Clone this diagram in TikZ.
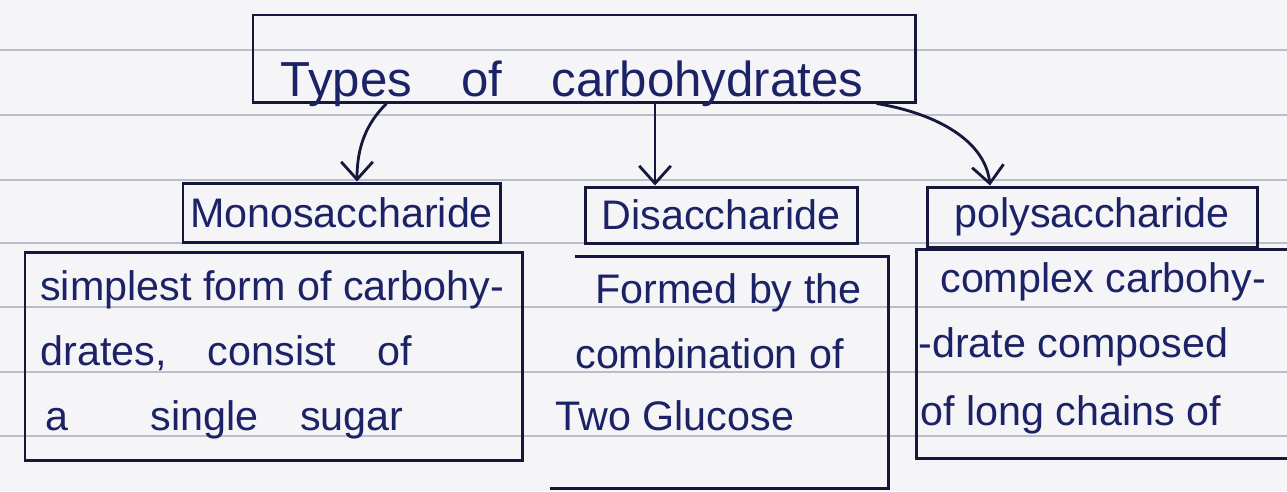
\documentclass[tikz,border=0pt]{standalone}
\usepackage{fontspec}
\setmainfont{Liberation Sans}
\usetikzlibrary{arrows.meta,fit}
\definecolor{paper}{HTML}{F5F5F7}
\definecolor{ruled}{HTML}{BABECB}
\definecolor{ink}{HTML}{1C2266}
\definecolor{pen}{HTML}{15183C}
\begin{document}
\begin{tikzpicture}[x=0.02cm,y=-0.02cm,
  frame/.style={draw=pen, line width=1.7pt, inner sep=0pt},
  hidden/.style={inner sep=0pt},
  edge/.style={draw=pen, line width=1.7pt},
  txt/.style={text=ink, anchor=base west, inner sep=0pt, font=\fontsize{23.5}{28}\selectfont},
  lbl/.style={text=ink, inner sep=0pt, font=\fontsize{23.5}{28}\selectfont},
  arr/.style={draw=pen, line width=1.6pt, -{Straight Barb[length=10pt,width=18pt,line width=1.6pt]}}]
\fill[paper] (0,0) rectangle (1287,491);
\useasboundingbox (0,0) rectangle (1287,491);
\foreach \yy in {50,115,180,243,307,372,436}
  \draw[ruled, line width=1.1pt] (0,\yy) -- (1287,\yy);
% title
\node[frame, fit={(253,15)(915,102)}] (title) {};
\node[text=ink, inner sep=0pt, anchor=base, font=\fontsize{28}{34}\selectfont] (titletxt) at (572,96) {Types\quad of\quad carbohydrates};
% labels
\node[frame, fit={(183,183)(500,242)}] (mono) {};
\node[lbl] (monotxt) at (mono.center) {Monosaccharide};
\node[frame, fit={(585,187)(857,243)}] (di) {};
\node[lbl] (ditxt) at (di.center) {Disaccharide};
\node[frame, fit={(927,187)(1257,247)}] (poly) {};
\node[lbl] (polytxt) at (poly.center) {polysaccharide};
% description boxes
\node[frame, fit={(25,252)(522,460)}] (monod) {};
\node[hidden, fit={(550,257)(888,488)}] (did) {};
\draw[edge] ([xshift=0.5cm]did.north west) -- (did.north east) -- (did.south east) -- (did.south west);
\node[hidden, fit={(917,250)(1287,458)}] (polyd) {};
\draw[edge] (polyd.north east) -- (polyd.north west) -- (polyd.south west) -- (polyd.south east);
% description texts
\node[txt] (m1) at (40,300) {simplest form of carbohy-};
\node[txt] (m2) at (40,365) {drates,\quad consist\quad of};
\node[txt] (m3) at (45,430) {a\qquad single\quad sugar};
\node[txt] (d1) at (595,303) {Formed by the};
\node[txt] (d2) at (575,368) {combination of};
\node[txt] (d3) at (555,430) {Two Glucose};
\node[txt] (p1) at (940,292) {complex carbohy-};
\node[txt] (p2) at (918,357) {-drate composed};
\node[txt] (p3) at (920,425) {of long chains of};
% arrows
\draw[arr] ([xshift=2.7cm]title.south west) .. controls +(-20,20) and +(0,-35) .. ([xshift=0.31cm]mono.north);
\draw[arr] ([xshift=-1.32cm]di.north |- title.south) -- ([xshift=-1.32cm]di.north);
\draw[arr] ([xshift=-0.8cm]title.south east) .. controls +(60,10) and +(-5,-45) .. ([xshift=-2.04cm]poly.north);
\end{tikzpicture}
\end{document}
